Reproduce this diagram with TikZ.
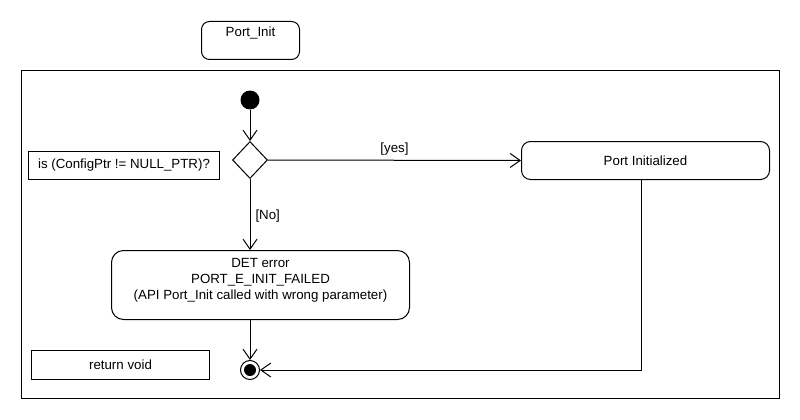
\documentclass[tikz,border=0pt]{standalone}
\usepackage{fontspec}
\setmainfont{Liberation Sans}
\usetikzlibrary{shapes.geometric,arrows.meta}
\begin{document}
\begin{tikzpicture}[x=1pt,y=-1pt,
  line width=1pt,
  every node/.style={font=\fontsize{13.3}{16}\selectfont},
  box/.style={draw, inner sep=0pt, anchor=north west},
  action/.style={box, rounded corners=9pt},
  flow/.style={-{Straight Barb[length=10pt,width=14pt,line width=1pt]}},
  lbl/.style={inner sep=0pt}]
\useasboundingbox (0,0) rectangle (800,420);

% activity header and frame
\node[action, rounded corners=8pt, minimum width=98pt, minimum height=38pt] (hdr) at (201,21) {};
\node[lbl, below=5pt] (hdrtxt) at (hdr.north) {Port\_Init};
\node[box, minimum width=758pt, minimum height=328pt] (frame) at (21,70) {};

% notes
\node[box, minimum width=191pt, minimum height=28pt] (cond) at (28,151) {};
\node[lbl] (condtxt) at (cond.center) {is (ConfigPtr != NULL\_PTR)?};
\node[box, minimum width=178pt, minimum height=29pt] (ret) at (31,350) {};
\node[lbl] (rettxt) at (ret.center) {return void};

% control nodes
\node[circle, fill=black, minimum size=19pt, inner sep=0pt] (start) at (250,100) {};
\node[diamond, draw, minimum width=35pt, minimum height=37pt, inner sep=0pt] (dec) at (250,160) {};
\node[circle, draw, minimum size=19pt, inner sep=0pt] (fin) at (250,370) {};
\node[circle, fill=black, minimum size=12pt, inner sep=0pt] (fincore) at (fin.center) {};

% actions
\node[action, minimum width=248pt, minimum height=38pt] (init) at (521,141) {};
\node[lbl] (inittxt) at (init.center) {Port Initialized};
\node[action, rounded corners=12pt, minimum width=298pt, minimum height=69pt] (det) at (111,250) {};
\node[lbl, align=center, yshift=5pt] (dettxt) at (det.center) {DET error\\PORT\_E\_INIT\_FAILED\\(API Port\_Init called with wrong parameter)};

% transitions
\draw[flow] (start) -- (dec);
\draw[flow] (dec.east) -- node[lbl, above=4pt] (yes) {[yes]} (init.west);
\draw[flow] (dec.south) -- node[lbl, right=5pt, pos=0.52] (no) {[No]} (dec.south |- det.north);
\draw[flow] (det.south -| fin) -- (fin.north);
\draw[flow] ([xshift=-4pt]init.south) |- (fin.east);
\end{tikzpicture}
\end{document}
